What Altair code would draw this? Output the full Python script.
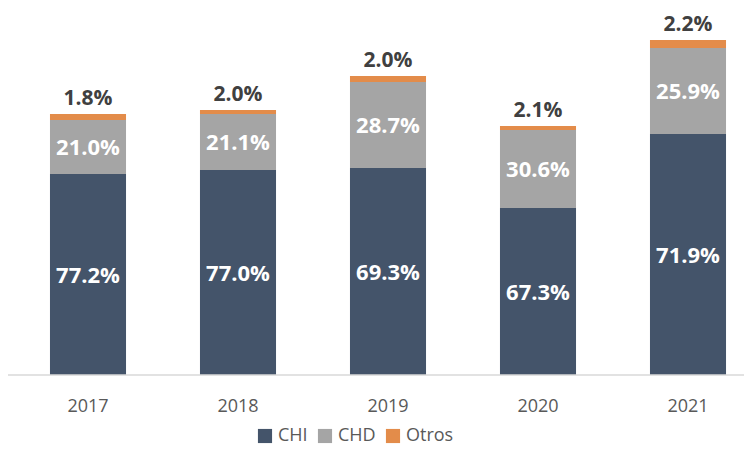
import altair as alt
import pandas as pd

years = ["2017", "2018", "2019", "2020", "2021"]
series = ["CHI", "CHD", "Otros"]
chi = [201, 205, 207, 167, 241]
chd = [54, 56, 86, 78, 86]
otros = [6, 4, 6, 4, 8]
chi_lbl = ["77.2%", "77.0%", "69.3%", "67.3%", "71.9%"]
chd_lbl = ["21.0%", "21.1%", "28.7%", "30.6%", "25.9%"]
otros_lbl = ["1.8%", "2.0%", "2.0%", "2.1%", "2.2%"]
colors = ["#44546A", "#A5A5A5", "#E38C4A"]

rows = []
for i, y in enumerate(years):
    start = 0
    for s, vals, lbls in zip(series, [chi, chd, otros], [chi_lbl, chd_lbl, otros_lbl]):
        v = vals[i]
        rows.append({"year": y, "serie": s, "order": series.index(s),
                     "start": start, "end": start + v, "mid": start + v / 2,
                     "label": lbls[i]})
        start += v
df = pd.DataFrame(rows)

FONT = "Open Sans"
W, H = 736, 367

xscale = alt.Scale(domain=years, range=[5, 755], paddingInner=0.493, paddingOuter=0.2465)
yscale = alt.Scale(domain=[0, 367], nice=False, zero=True)

base = alt.Chart(df)

bars = base.mark_bar().encode(
    x=alt.X("year:N", scale=xscale, sort=years,
            axis=alt.Axis(title=None, domain=False, ticks=False, labelAngle=0,
                          labelFont=FONT, labelFontSize=18, labelColor="#595959",
                          labelPadding=22)),
    y=alt.Y("start:Q", scale=yscale, axis=None),
    y2="end:Q",
    color=alt.Color("serie:N", scale=alt.Scale(domain=series, range=colors),
                    legend=alt.Legend(title=None, orient="none", legendX=248, legendY=419,
                                      direction="horizontal", symbolType="square",
                                      symbolSize=200, symbolStrokeWidth=0,
                                      labelFont=FONT, labelFontSize=18,
                                      labelColor="#595959", columnPadding=8,
                                      symbolOffset=0, labelOffset=4)),
    order="order:Q",
)

inner = base.transform_filter(alt.datum.serie != "Otros").mark_text(
    font=FONT, fontSize=22, fontWeight="bold", color="white", baseline="middle", dy=1
).encode(
    x=alt.X("year:N", scale=xscale, sort=years),
    y=alt.Y("mid:Q", scale=yscale),
    text="label:N",
)

top = base.transform_filter(alt.datum.serie == "Otros").mark_text(
    font=FONT, fontSize=21, fontWeight="bold", color="#404040", baseline="alphabetic", dy=-9
).encode(
    x=alt.X("year:N", scale=xscale, sort=years),
    y=alt.Y("end:Q", scale=yscale),
    text="label:N",
)

baseline = alt.Chart(pd.DataFrame({"v": [0]})).mark_rule(color="#D9D9D9", strokeWidth=1.5).encode(
    y=alt.Y("v:Q", scale=yscale),
    x=alt.value(0),
    x2=alt.value(W),
)

chart = alt.layer(bars, baseline, inner, top).properties(
    width=W, height=H,
    autosize=alt.AutoSizeParams(type="none"),
    padding={"left": 0, "top": 0, "right": 0, "bottom": 70},
).configure_view(stroke=None)

chart.save("out.html", embed_options={"renderer": "svg", "actions": False})
